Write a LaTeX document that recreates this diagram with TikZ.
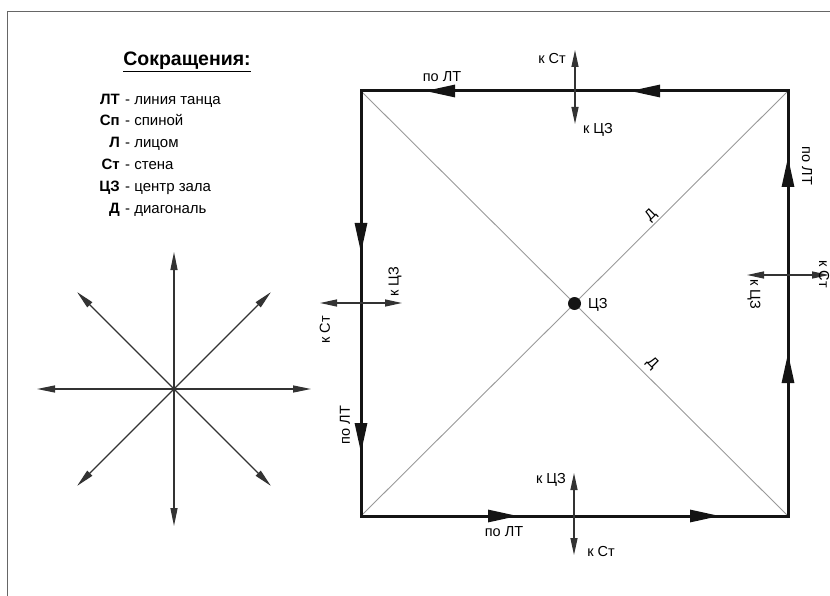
\documentclass[tikz,border=0pt]{standalone}
\usepackage{fontspec}
\setmainfont{Liberation Sans}
\usetikzlibrary{arrows.meta}
\begin{document}
\begin{tikzpicture}[x=1pt,y=-1pt,
  frameline/.style={draw=black!60, line width=0.8pt},
  edgeline/.style={draw=black!92, line width=3pt, line join=miter},
  sqhead/.style={draw=black!92, -{Triangle[length=30pt,width=12pt]}, line width=3pt},
  diagline/.style={draw=black!40, line width=0.9pt},
  twohead/.style={draw=black!80, line width=1.3pt, {Triangle[length=17pt,width=7pt]}-{Triangle[length=17pt,width=7pt]}},
  starray/.style={draw=black!80, line width=1.3pt, -{Triangle[length=18pt,width=7pt]}},
  lbl/.style={font=\fontsize{14.5}{16}\selectfont, inner sep=0pt},
  abbr/.style={font=\bfseries\fontsize{15}{17}\selectfont, inner sep=0pt, anchor=base east},
  desc/.style={font=\fontsize{15}{17}\selectfont, inner sep=0pt, anchor=base west},
]
\useasboundingbox (0,0) rectangle (830,596);
% frame
\draw[frameline] (830,11) -- (7,11) -- (7,596);

% legend
\node[font=\bfseries\fontsize{19.5}{22}\selectfont, inner sep=0pt] (title) at (187,62) {\underline{Сокращения:}};
\node[abbr] (a1) at (120,104.5) {ЛТ};   \node[desc] (d1) at (125,104.5) {- линия танца};
\node[abbr] (a2) at (120,126) {Сп}; \node[desc] (d2) at (125,126) {- спиной};
\node[abbr] (a3) at (120,148) {Л};  \node[desc] (d3) at (125,148) {- лицом};
\node[abbr] (a4) at (120,170) {Ст}; \node[desc] (d4) at (125,170) {- стена};
\node[abbr] (a5) at (120,192) {ЦЗ}; \node[desc] (d5) at (125,192) {- центр зала};
\node[abbr] (a6) at (120,214) {Д};  \node[desc] (d6) at (125,214) {- диагональ};

% star
\coordinate (s) at (174,389);
\foreach \a in {0,45,...,315} {\draw[starray] (s) -- ++(\a:137);}

% square
\coordinate (A) at (361,91);
\coordinate (B) at (788,91);
\coordinate (C) at (788,516);
\coordinate (D) at (361,516);
\coordinate (O) at (574.5,303.5);
\draw[diagline] (A) -- (C);
\draw[diagline] (B) -- (D);
\draw[edgeline] (A) -- (B) -- (C) -- (D) -- cycle;

% arrowheads along the line of dance
\draw[sqhead] (461,91) -- (425,91);
\draw[sqhead] (666,91) -- (630,91);
\draw[sqhead] (361,217) -- (361,253);
\draw[sqhead] (361,417) -- (361,453);
\draw[sqhead] (482,516) -- (518,516);
\draw[sqhead] (684,516) -- (720,516);
\draw[sqhead] (788,389) -- (788,353);
\draw[sqhead] (788,193) -- (788,157);

% centre
\fill[black!92] (O) circle (6.5pt);
\node[lbl, anchor=west] (cz) at (588,305) {ЦЗ};
\node[lbl, rotate=45] (dd1) at (651,216) {Д};
\node[lbl, rotate=-45] (dd2) at (652,363) {Д};

% line of dance labels
\node[lbl] (pl1) at (442,77) {по ЛТ};
\node[lbl] (pl2) at (504,532) {по ЛТ};
\node[lbl, rotate=90] (pl3) at (345,425) {по ЛТ};
\node[lbl, rotate=-90] (pl4) at (807,166) {по ЛТ};

% crosses
\draw[twohead] (575,50) -- (575,124);
\node[lbl] (t1) at (552,59) {к Ст};
\node[lbl] (t2) at (598,130) {к ЦЗ};

\draw[twohead] (574,473) -- (574,555);
\node[lbl] (b1) at (551,480) {к ЦЗ};
\node[lbl] (b2) at (601,552) {к Ст};

\draw[twohead] (320,303) -- (402,303);
\node[lbl, rotate=90] (l1) at (325,330) {к Ст};
\node[lbl, rotate=90] (l2) at (395,282) {к ЦЗ};

\draw[twohead] (747,275) -- (829,275);
\node[lbl, rotate=-90] (r1) at (824,274) {к Ст};
\node[lbl, rotate=-90] (r2) at (754,294) {к ЦЗ};
\end{tikzpicture}
\end{document}
